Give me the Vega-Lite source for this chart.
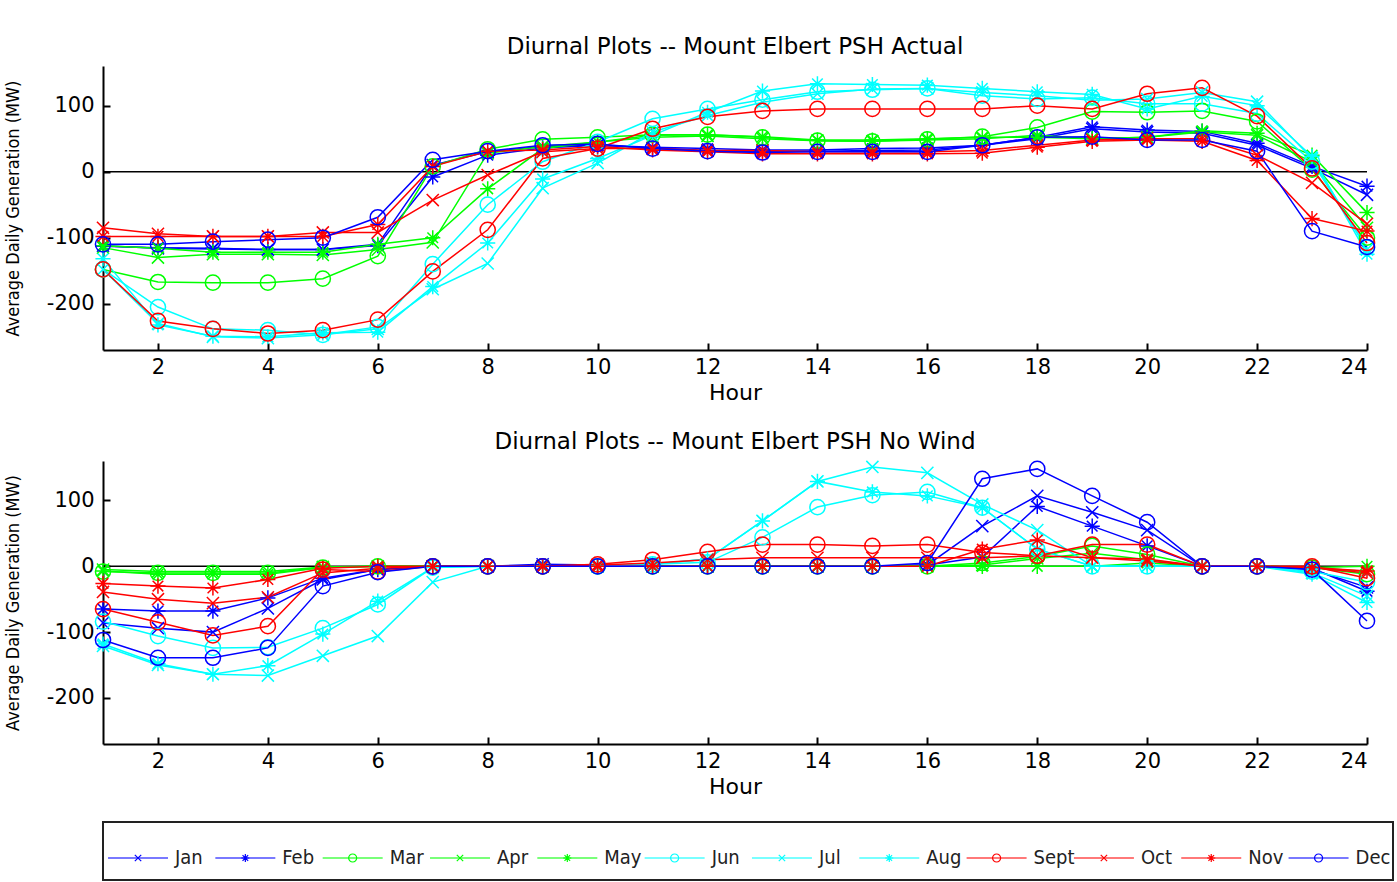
{
 "$schema": "https://vega.github.io/schema/vega-lite/v6.json",
 "padding": {"left": 4, "top": 36, "right": 0, "bottom": 0},
 "background": "white",
 "config": {
  "view": {"stroke": null},
  "font": "DejaVu Sans",
  "axis": {"grid": false, "domainColor": "black", "domainWidth": 2, "tickColor": "black", "tickWidth": 2, "tickSize": -7, "labelColor": "black", "labelFont": "DejaVu Sans", "labelFontSize": 21, "titleColor": "black", "titleFontWeight": "normal", "labelPadding": 16},
  "axisX": {"labelPadding": 13},
  "title": {"font": "DejaVu Sans", "fontSize": 23, "fontWeight": "normal", "color": "black", "offset": 7}
 },
 "datasets": {
  "legend": [{"m":"Jan"},{"m":"Feb"},{"m":"Mar"},{"m":"Apr"},{"m":"May"},{"m":"Jun"},{"m":"Jul"},{"m":"Aug"},{"m":"Sept"},{"m":"Oct"},{"m":"Nov"},{"m":"Dec"}],
  "actual": [
{"m":"Jan","h":1,"v":-112},{"m":"Jan","h":2,"v":-116},{"m":"Jan","h":3,"v":-117},{"m":"Jan","h":4,"v":-118},{"m":"Jan","h":5,"v":-118},{"m":"Jan","h":6,"v":-110},{"m":"Jan","h":7,"v":10},{"m":"Jan","h":8,"v":30},{"m":"Jan","h":9,"v":38},{"m":"Jan","h":10,"v":40},{"m":"Jan","h":11,"v":36},{"m":"Jan","h":12,"v":32},{"m":"Jan","h":13,"v":30},{"m":"Jan","h":14,"v":31},{"m":"Jan","h":15,"v":32},{"m":"Jan","h":16,"v":33},{"m":"Jan","h":17,"v":40},{"m":"Jan","h":18,"v":50},{"m":"Jan","h":19,"v":65},{"m":"Jan","h":20,"v":60},{"m":"Jan","h":21,"v":58},{"m":"Jan","h":22,"v":40},{"m":"Jan","h":23,"v":5},{"m":"Jan","h":24,"v":-35},
{"m":"Feb","h":1,"v":-113},{"m":"Feb","h":2,"v":-115},{"m":"Feb","h":3,"v":-116},{"m":"Feb","h":4,"v":-118},{"m":"Feb","h":5,"v":-118},{"m":"Feb","h":6,"v":-112},{"m":"Feb","h":7,"v":-8},{"m":"Feb","h":8,"v":25},{"m":"Feb","h":9,"v":36},{"m":"Feb","h":10,"v":40},{"m":"Feb","h":11,"v":37},{"m":"Feb","h":12,"v":35},{"m":"Feb","h":13,"v":33},{"m":"Feb","h":14,"v":33},{"m":"Feb","h":15,"v":35},{"m":"Feb","h":16,"v":36},{"m":"Feb","h":17,"v":40},{"m":"Feb","h":18,"v":52},{"m":"Feb","h":19,"v":68},{"m":"Feb","h":20,"v":63},{"m":"Feb","h":21,"v":61},{"m":"Feb","h":22,"v":43},{"m":"Feb","h":23,"v":8},{"m":"Feb","h":24,"v":-22},
{"m":"Mar","h":1,"v":-148},{"m":"Mar","h":2,"v":-167},{"m":"Mar","h":3,"v":-168},{"m":"Mar","h":4,"v":-168},{"m":"Mar","h":5,"v":-162},{"m":"Mar","h":6,"v":-128},{"m":"Mar","h":7,"v":8},{"m":"Mar","h":8,"v":34},{"m":"Mar","h":9,"v":49},{"m":"Mar","h":10,"v":52},{"m":"Mar","h":11,"v":56},{"m":"Mar","h":12,"v":56},{"m":"Mar","h":13,"v":52},{"m":"Mar","h":14,"v":47},{"m":"Mar","h":15,"v":46},{"m":"Mar","h":16,"v":49},{"m":"Mar","h":17,"v":53},{"m":"Mar","h":18,"v":67},{"m":"Mar","h":19,"v":91},{"m":"Mar","h":20,"v":90},{"m":"Mar","h":21,"v":92},{"m":"Mar","h":22,"v":76},{"m":"Mar","h":23,"v":3},{"m":"Mar","h":24,"v":-100},
{"m":"Apr","h":1,"v":-115},{"m":"Apr","h":2,"v":-130},{"m":"Apr","h":3,"v":-125},{"m":"Apr","h":4,"v":-125},{"m":"Apr","h":5,"v":-126},{"m":"Apr","h":6,"v":-118},{"m":"Apr","h":7,"v":-107},{"m":"Apr","h":8,"v":28},{"m":"Apr","h":9,"v":38},{"m":"Apr","h":10,"v":45},{"m":"Apr","h":11,"v":52},{"m":"Apr","h":12,"v":54},{"m":"Apr","h":13,"v":50},{"m":"Apr","h":14,"v":47},{"m":"Apr","h":15,"v":46},{"m":"Apr","h":16,"v":48},{"m":"Apr","h":17,"v":50},{"m":"Apr","h":18,"v":55},{"m":"Apr","h":19,"v":50},{"m":"Apr","h":20,"v":52},{"m":"Apr","h":21,"v":60},{"m":"Apr","h":22,"v":55},{"m":"Apr","h":23,"v":15},{"m":"Apr","h":24,"v":-85},
{"m":"May","h":1,"v":-112},{"m":"May","h":2,"v":-116},{"m":"May","h":3,"v":-122},{"m":"May","h":4,"v":-122},{"m":"May","h":5,"v":-122},{"m":"May","h":6,"v":-110},{"m":"May","h":7,"v":-100},{"m":"May","h":8,"v":-26},{"m":"May","h":9,"v":35},{"m":"May","h":10,"v":45},{"m":"May","h":11,"v":55},{"m":"May","h":12,"v":56},{"m":"May","h":13,"v":53},{"m":"May","h":14,"v":48},{"m":"May","h":15,"v":48},{"m":"May","h":16,"v":50},{"m":"May","h":17,"v":52},{"m":"May","h":18,"v":52},{"m":"May","h":19,"v":50},{"m":"May","h":20,"v":52},{"m":"May","h":21,"v":62},{"m":"May","h":22,"v":58},{"m":"May","h":23,"v":25},{"m":"May","h":24,"v":-62},
{"m":"Jun","h":1,"v":-148},{"m":"Jun","h":2,"v":-205},{"m":"Jun","h":3,"v":-238},{"m":"Jun","h":4,"v":-240},{"m":"Jun","h":5,"v":-247},{"m":"Jun","h":6,"v":-235},{"m":"Jun","h":7,"v":-140},{"m":"Jun","h":8,"v":-50},{"m":"Jun","h":9,"v":15},{"m":"Jun","h":10,"v":45},{"m":"Jun","h":11,"v":80},{"m":"Jun","h":12,"v":95},{"m":"Jun","h":13,"v":109},{"m":"Jun","h":14,"v":121},{"m":"Jun","h":15,"v":124},{"m":"Jun","h":16,"v":126},{"m":"Jun","h":17,"v":115},{"m":"Jun","h":18,"v":110},{"m":"Jun","h":19,"v":112},{"m":"Jun","h":20,"v":103},{"m":"Jun","h":21,"v":103},{"m":"Jun","h":22,"v":88},{"m":"Jun","h":23,"v":15},{"m":"Jun","h":24,"v":-115},
{"m":"Jul","h":1,"v":-148},{"m":"Jul","h":2,"v":-230},{"m":"Jul","h":3,"v":-250},{"m":"Jul","h":4,"v":-252},{"m":"Jul","h":5,"v":-247},{"m":"Jul","h":6,"v":-238},{"m":"Jul","h":7,"v":-178},{"m":"Jul","h":8,"v":-139},{"m":"Jul","h":9,"v":-25},{"m":"Jul","h":10,"v":13},{"m":"Jul","h":11,"v":60},{"m":"Jul","h":12,"v":85},{"m":"Jul","h":13,"v":105},{"m":"Jul","h":14,"v":118},{"m":"Jul","h":15,"v":125},{"m":"Jul","h":16,"v":126},{"m":"Jul","h":17,"v":120},{"m":"Jul","h":18,"v":115},{"m":"Jul","h":19,"v":108},{"m":"Jul","h":20,"v":110},{"m":"Jul","h":21,"v":120},{"m":"Jul","h":22,"v":106},{"m":"Jul","h":23,"v":20},{"m":"Jul","h":24,"v":-118},
{"m":"Aug","h":1,"v":-132},{"m":"Aug","h":2,"v":-232},{"m":"Aug","h":3,"v":-249},{"m":"Aug","h":4,"v":-250},{"m":"Aug","h":5,"v":-244},{"m":"Aug","h":6,"v":-243},{"m":"Aug","h":7,"v":-174},{"m":"Aug","h":8,"v":-108},{"m":"Aug","h":9,"v":-11},{"m":"Aug","h":10,"v":20},{"m":"Aug","h":11,"v":55},{"m":"Aug","h":12,"v":90},{"m":"Aug","h":13,"v":122},{"m":"Aug","h":14,"v":133},{"m":"Aug","h":15,"v":132},{"m":"Aug","h":16,"v":131},{"m":"Aug","h":17,"v":126},{"m":"Aug","h":18,"v":121},{"m":"Aug","h":19,"v":117},{"m":"Aug","h":20,"v":95},{"m":"Aug","h":21,"v":114},{"m":"Aug","h":22,"v":100},{"m":"Aug","h":23,"v":23},{"m":"Aug","h":24,"v":-125},
{"m":"Sept","h":1,"v":-148},{"m":"Sept","h":2,"v":-226},{"m":"Sept","h":3,"v":-238},{"m":"Sept","h":4,"v":-245},{"m":"Sept","h":5,"v":-240},{"m":"Sept","h":6,"v":-224},{"m":"Sept","h":7,"v":-151},{"m":"Sept","h":8,"v":-88},{"m":"Sept","h":9,"v":20},{"m":"Sept","h":10,"v":35},{"m":"Sept","h":11,"v":65},{"m":"Sept","h":12,"v":83},{"m":"Sept","h":13,"v":92},{"m":"Sept","h":14,"v":95},{"m":"Sept","h":15,"v":95},{"m":"Sept","h":16,"v":95},{"m":"Sept","h":17,"v":95},{"m":"Sept","h":18,"v":100},{"m":"Sept","h":19,"v":95},{"m":"Sept","h":20,"v":118},{"m":"Sept","h":21,"v":127},{"m":"Sept","h":22,"v":84},{"m":"Sept","h":23,"v":5},{"m":"Sept","h":24,"v":-108},
{"m":"Oct","h":1,"v":-85},{"m":"Oct","h":2,"v":-94},{"m":"Oct","h":3,"v":-98},{"m":"Oct","h":4,"v":-98},{"m":"Oct","h":5,"v":-92},{"m":"Oct","h":6,"v":-92},{"m":"Oct","h":7,"v":-43},{"m":"Oct","h":8,"v":-5},{"m":"Oct","h":9,"v":30},{"m":"Oct","h":10,"v":35},{"m":"Oct","h":11,"v":35},{"m":"Oct","h":12,"v":32},{"m":"Oct","h":13,"v":32},{"m":"Oct","h":14,"v":30},{"m":"Oct","h":15,"v":30},{"m":"Oct","h":16,"v":30},{"m":"Oct","h":17,"v":32},{"m":"Oct","h":18,"v":40},{"m":"Oct","h":19,"v":48},{"m":"Oct","h":20,"v":50},{"m":"Oct","h":21,"v":50},{"m":"Oct","h":22,"v":25},{"m":"Oct","h":23,"v":-17},{"m":"Oct","h":24,"v":-79},
{"m":"Nov","h":1,"v":-98},{"m":"Nov","h":2,"v":-98},{"m":"Nov","h":3,"v":-98},{"m":"Nov","h":4,"v":-98},{"m":"Nov","h":5,"v":-98},{"m":"Nov","h":6,"v":-80},{"m":"Nov","h":7,"v":8},{"m":"Nov","h":8,"v":31},{"m":"Nov","h":9,"v":33},{"m":"Nov","h":10,"v":38},{"m":"Nov","h":11,"v":33},{"m":"Nov","h":12,"v":30},{"m":"Nov","h":13,"v":27},{"m":"Nov","h":14,"v":27},{"m":"Nov","h":15,"v":27},{"m":"Nov","h":16,"v":27},{"m":"Nov","h":17,"v":28},{"m":"Nov","h":18,"v":37},{"m":"Nov","h":19,"v":46},{"m":"Nov","h":20,"v":48},{"m":"Nov","h":21,"v":46},{"m":"Nov","h":22,"v":17},{"m":"Nov","h":23,"v":-71},{"m":"Nov","h":24,"v":-90},
{"m":"Dec","h":1,"v":-110},{"m":"Dec","h":2,"v":-110},{"m":"Dec","h":3,"v":-106},{"m":"Dec","h":4,"v":-103},{"m":"Dec","h":5,"v":-100},{"m":"Dec","h":6,"v":-69},{"m":"Dec","h":7,"v":18},{"m":"Dec","h":8,"v":31},{"m":"Dec","h":9,"v":40},{"m":"Dec","h":10,"v":42},{"m":"Dec","h":11,"v":35},{"m":"Dec","h":12,"v":31},{"m":"Dec","h":13,"v":29},{"m":"Dec","h":14,"v":30},{"m":"Dec","h":15,"v":30},{"m":"Dec","h":16,"v":30},{"m":"Dec","h":17,"v":40},{"m":"Dec","h":18,"v":52},{"m":"Dec","h":19,"v":53},{"m":"Dec","h":20,"v":48},{"m":"Dec","h":21,"v":48},{"m":"Dec","h":22,"v":31},{"m":"Dec","h":23,"v":-90},{"m":"Dec","h":24,"v":-114}
  ],
  "nowind": [
{"m":"Jan","h":1,"v":-86},{"m":"Jan","h":2,"v":-94},{"m":"Jan","h":3,"v":-100},{"m":"Jan","h":4,"v":-64},{"m":"Jan","h":5,"v":-20},{"m":"Jan","h":6,"v":-5},{"m":"Jan","h":7,"v":0},{"m":"Jan","h":8,"v":0},{"m":"Jan","h":9,"v":3},{"m":"Jan","h":10,"v":2},{"m":"Jan","h":11,"v":0},{"m":"Jan","h":12,"v":0},{"m":"Jan","h":13,"v":0},{"m":"Jan","h":14,"v":0},{"m":"Jan","h":15,"v":0},{"m":"Jan","h":16,"v":2},{"m":"Jan","h":17,"v":61},{"m":"Jan","h":18,"v":107},{"m":"Jan","h":19,"v":82},{"m":"Jan","h":20,"v":55},{"m":"Jan","h":21,"v":0},{"m":"Jan","h":22,"v":0},{"m":"Jan","h":23,"v":-5},{"m":"Jan","h":24,"v":-32},
{"m":"Feb","h":1,"v":-65},{"m":"Feb","h":2,"v":-68},{"m":"Feb","h":3,"v":-68},{"m":"Feb","h":4,"v":-48},{"m":"Feb","h":5,"v":-18},{"m":"Feb","h":6,"v":-5},{"m":"Feb","h":7,"v":0},{"m":"Feb","h":8,"v":0},{"m":"Feb","h":9,"v":0},{"m":"Feb","h":10,"v":0},{"m":"Feb","h":11,"v":0},{"m":"Feb","h":12,"v":0},{"m":"Feb","h":13,"v":0},{"m":"Feb","h":14,"v":0},{"m":"Feb","h":15,"v":0},{"m":"Feb","h":16,"v":2},{"m":"Feb","h":17,"v":14},{"m":"Feb","h":18,"v":91},{"m":"Feb","h":19,"v":61},{"m":"Feb","h":20,"v":31},{"m":"Feb","h":21,"v":0},{"m":"Feb","h":22,"v":0},{"m":"Feb","h":23,"v":-3},{"m":"Feb","h":24,"v":-38},
{"m":"Mar","h":1,"v":-8},{"m":"Mar","h":2,"v":-10},{"m":"Mar","h":3,"v":-10},{"m":"Mar","h":4,"v":-10},{"m":"Mar","h":5,"v":-2},{"m":"Mar","h":6,"v":0},{"m":"Mar","h":7,"v":0},{"m":"Mar","h":8,"v":0},{"m":"Mar","h":9,"v":0},{"m":"Mar","h":10,"v":0},{"m":"Mar","h":11,"v":0},{"m":"Mar","h":12,"v":0},{"m":"Mar","h":13,"v":0},{"m":"Mar","h":14,"v":0},{"m":"Mar","h":15,"v":0},{"m":"Mar","h":16,"v":0},{"m":"Mar","h":17,"v":5},{"m":"Mar","h":18,"v":15},{"m":"Mar","h":19,"v":31},{"m":"Mar","h":20,"v":18},{"m":"Mar","h":21,"v":0},{"m":"Mar","h":22,"v":0},{"m":"Mar","h":23,"v":-2},{"m":"Mar","h":24,"v":-12},
{"m":"Apr","h":1,"v":-5},{"m":"Apr","h":2,"v":-8},{"m":"Apr","h":3,"v":-8},{"m":"Apr","h":4,"v":-8},{"m":"Apr","h":5,"v":-1},{"m":"Apr","h":6,"v":0},{"m":"Apr","h":7,"v":0},{"m":"Apr","h":8,"v":0},{"m":"Apr","h":9,"v":0},{"m":"Apr","h":10,"v":0},{"m":"Apr","h":11,"v":0},{"m":"Apr","h":12,"v":0},{"m":"Apr","h":13,"v":0},{"m":"Apr","h":14,"v":0},{"m":"Apr","h":15,"v":0},{"m":"Apr","h":16,"v":0},{"m":"Apr","h":17,"v":2},{"m":"Apr","h":18,"v":12},{"m":"Apr","h":19,"v":20},{"m":"Apr","h":20,"v":10},{"m":"Apr","h":21,"v":0},{"m":"Apr","h":22,"v":0},{"m":"Apr","h":23,"v":-2},{"m":"Apr","h":24,"v":-8},
{"m":"May","h":1,"v":-7},{"m":"May","h":2,"v":-12},{"m":"May","h":3,"v":-12},{"m":"May","h":4,"v":-12},{"m":"May","h":5,"v":-2},{"m":"May","h":6,"v":0},{"m":"May","h":7,"v":0},{"m":"May","h":8,"v":0},{"m":"May","h":9,"v":0},{"m":"May","h":10,"v":0},{"m":"May","h":11,"v":0},{"m":"May","h":12,"v":0},{"m":"May","h":13,"v":0},{"m":"May","h":14,"v":0},{"m":"May","h":15,"v":0},{"m":"May","h":16,"v":0},{"m":"May","h":17,"v":0},{"m":"May","h":18,"v":0},{"m":"May","h":19,"v":0},{"m":"May","h":20,"v":5},{"m":"May","h":21,"v":0},{"m":"May","h":22,"v":0},{"m":"May","h":23,"v":-2},{"m":"May","h":24,"v":0},
{"m":"Jun","h":1,"v":-84},{"m":"Jun","h":2,"v":-106},{"m":"Jun","h":3,"v":-124},{"m":"Jun","h":4,"v":-123},{"m":"Jun","h":5,"v":-94},{"m":"Jun","h":6,"v":-58},{"m":"Jun","h":7,"v":-2},{"m":"Jun","h":8,"v":0},{"m":"Jun","h":9,"v":0},{"m":"Jun","h":10,"v":0},{"m":"Jun","h":11,"v":3},{"m":"Jun","h":12,"v":6},{"m":"Jun","h":13,"v":44},{"m":"Jun","h":14,"v":90},{"m":"Jun","h":15,"v":108},{"m":"Jun","h":16,"v":113},{"m":"Jun","h":17,"v":89},{"m":"Jun","h":18,"v":26},{"m":"Jun","h":19,"v":0},{"m":"Jun","h":20,"v":0},{"m":"Jun","h":21,"v":0},{"m":"Jun","h":22,"v":0},{"m":"Jun","h":23,"v":-8},{"m":"Jun","h":24,"v":-24},
{"m":"Jul","h":1,"v":-121},{"m":"Jul","h":2,"v":-150},{"m":"Jul","h":3,"v":-164},{"m":"Jul","h":4,"v":-166},{"m":"Jul","h":5,"v":-136},{"m":"Jul","h":6,"v":-106},{"m":"Jul","h":7,"v":-24},{"m":"Jul","h":8,"v":0},{"m":"Jul","h":9,"v":0},{"m":"Jul","h":10,"v":0},{"m":"Jul","h":11,"v":3},{"m":"Jul","h":12,"v":11},{"m":"Jul","h":13,"v":69},{"m":"Jul","h":14,"v":129},{"m":"Jul","h":15,"v":151},{"m":"Jul","h":16,"v":142},{"m":"Jul","h":17,"v":94},{"m":"Jul","h":18,"v":55},{"m":"Jul","h":19,"v":0},{"m":"Jul","h":20,"v":0},{"m":"Jul","h":21,"v":0},{"m":"Jul","h":22,"v":0},{"m":"Jul","h":23,"v":-10},{"m":"Jul","h":24,"v":-45},
{"m":"Aug","h":1,"v":-118},{"m":"Aug","h":2,"v":-148},{"m":"Aug","h":3,"v":-164},{"m":"Aug","h":4,"v":-151},{"m":"Aug","h":5,"v":-103},{"m":"Aug","h":6,"v":-53},{"m":"Aug","h":7,"v":-2},{"m":"Aug","h":8,"v":0},{"m":"Aug","h":9,"v":0},{"m":"Aug","h":10,"v":0},{"m":"Aug","h":11,"v":3},{"m":"Aug","h":12,"v":11},{"m":"Aug","h":13,"v":69},{"m":"Aug","h":14,"v":129},{"m":"Aug","h":15,"v":113},{"m":"Aug","h":16,"v":107},{"m":"Aug","h":17,"v":89},{"m":"Aug","h":18,"v":26},{"m":"Aug","h":19,"v":0},{"m":"Aug","h":20,"v":0},{"m":"Aug","h":21,"v":0},{"m":"Aug","h":22,"v":0},{"m":"Aug","h":23,"v":-12},{"m":"Aug","h":24,"v":-55},
{"m":"Sept","h":1,"v":-65},{"m":"Sept","h":2,"v":-85},{"m":"Sept","h":3,"v":-105},{"m":"Sept","h":4,"v":-91},{"m":"Sept","h":5,"v":-5},{"m":"Sept","h":6,"v":-8},{"m":"Sept","h":7,"v":0},{"m":"Sept","h":8,"v":0},{"m":"Sept","h":9,"v":0},{"m":"Sept","h":10,"v":3},{"m":"Sept","h":11,"v":10},{"m":"Sept","h":12,"v":22},{"m":"Sept","h":13,"v":33},{"m":"Sept","h":14,"v":33},{"m":"Sept","h":15,"v":31},{"m":"Sept","h":16,"v":33},{"m":"Sept","h":17,"v":21},{"m":"Sept","h":18,"v":16},{"m":"Sept","h":19,"v":33},{"m":"Sept","h":20,"v":33},{"m":"Sept","h":21,"v":0},{"m":"Sept","h":22,"v":0},{"m":"Sept","h":23,"v":0},{"m":"Sept","h":24,"v":-18},
{"m":"Oct","h":1,"v":-39},{"m":"Oct","h":2,"v":-50},{"m":"Oct","h":3,"v":-56},{"m":"Oct","h":4,"v":-47},{"m":"Oct","h":5,"v":-10},{"m":"Oct","h":6,"v":-3},{"m":"Oct","h":7,"v":0},{"m":"Oct","h":8,"v":0},{"m":"Oct","h":9,"v":0},{"m":"Oct","h":10,"v":2},{"m":"Oct","h":11,"v":5},{"m":"Oct","h":12,"v":10},{"m":"Oct","h":13,"v":13},{"m":"Oct","h":14,"v":13},{"m":"Oct","h":15,"v":13},{"m":"Oct","h":16,"v":13},{"m":"Oct","h":17,"v":13},{"m":"Oct","h":18,"v":16},{"m":"Oct","h":19,"v":13},{"m":"Oct","h":20,"v":8},{"m":"Oct","h":21,"v":0},{"m":"Oct","h":22,"v":0},{"m":"Oct","h":23,"v":-2},{"m":"Oct","h":24,"v":-10},
{"m":"Nov","h":1,"v":-26},{"m":"Nov","h":2,"v":-30},{"m":"Nov","h":3,"v":-33},{"m":"Nov","h":4,"v":-20},{"m":"Nov","h":5,"v":-3},{"m":"Nov","h":6,"v":0},{"m":"Nov","h":7,"v":0},{"m":"Nov","h":8,"v":0},{"m":"Nov","h":9,"v":0},{"m":"Nov","h":10,"v":0},{"m":"Nov","h":11,"v":0},{"m":"Nov","h":12,"v":0},{"m":"Nov","h":13,"v":0},{"m":"Nov","h":14,"v":0},{"m":"Nov","h":15,"v":0},{"m":"Nov","h":16,"v":0},{"m":"Nov","h":17,"v":26},{"m":"Nov","h":18,"v":40},{"m":"Nov","h":19,"v":13},{"m":"Nov","h":20,"v":11},{"m":"Nov","h":21,"v":0},{"m":"Nov","h":22,"v":0},{"m":"Nov","h":23,"v":-2},{"m":"Nov","h":24,"v":-7},
{"m":"Dec","h":1,"v":-112},{"m":"Dec","h":2,"v":-139},{"m":"Dec","h":3,"v":-139},{"m":"Dec","h":4,"v":-124},{"m":"Dec","h":5,"v":-30},{"m":"Dec","h":6,"v":-9},{"m":"Dec","h":7,"v":0},{"m":"Dec","h":8,"v":0},{"m":"Dec","h":9,"v":0},{"m":"Dec","h":10,"v":0},{"m":"Dec","h":11,"v":0},{"m":"Dec","h":12,"v":0},{"m":"Dec","h":13,"v":0},{"m":"Dec","h":14,"v":0},{"m":"Dec","h":15,"v":0},{"m":"Dec","h":16,"v":5},{"m":"Dec","h":17,"v":133},{"m":"Dec","h":18,"v":148},{"m":"Dec","h":19,"v":107},{"m":"Dec","h":20,"v":67},{"m":"Dec","h":21,"v":0},{"m":"Dec","h":22,"v":0},{"m":"Dec","h":23,"v":-5},{"m":"Dec","h":24,"v":-83}
  ]
 },
 "spacing": 24,
 "vconcat": [
  {
   "spacing": 27,
   "vconcat": [
    {
     "title": {"text": "Diurnal Plots -- Mount Elbert PSH Actual"},
     "width": 1264, "height": 284,
     "layer": [
      {"data": {"values": [{}]}, "mark": {"type": "rule", "color": "black", "strokeWidth": 1.5}, "encoding": {"y": {"datum": 0, "type": "quantitative"}}},
      {"data": {"name": "actual"}, "mark": {"type": "line", "strokeWidth": 1.5},
       "encoding": {
        "x": {"field": "h", "type": "quantitative", "scale": {"domain": [1, 24], "nice": false}, "axis": {"values": [2,4,6,8,10,12,14,16,18,20,22,24], "title": "Hour", "titleFont": "DejaVu Sans", "titleFontSize": 22, "titlePadding": 5}},
        "y": {"field": "v", "type": "quantitative", "scale": {"domain": [-270, 160], "nice": false}, "axis": {"values": [-200,-100,0,100], "labelExpr": "'' + datum.value", "title": "Average Daily Generation (MW)", "titleFont": "DejaVu Sans Condensed, DejaVu Sans", "titleFontSize": 18, "titlePadding": 24}},
        "color": {"field": "m", "type": "nominal", "legend": null, "scale": {"domain": ["Jan","Feb","Mar","Apr","May","Jun","Jul","Aug","Sept","Oct","Nov","Dec"], "range": ["#0000ff","#0000ff","#00ff00","#00ff00","#00ff00","#00ffff","#00ffff","#00ffff","#ff0000","#ff0000","#ff0000","#0000ff"]}},
        "detail": {"field": "m"}
       }},
      {"data": {"name": "actual"}, "mark": {"type": "point", "filled": false, "size": 230, "strokeWidth": 1.5, "opacity": 1},
       "encoding": {
        "x": {"field": "h", "type": "quantitative"},
        "y": {"field": "v", "type": "quantitative"},
        "color": {"field": "m", "type": "nominal", "legend": null},
        "shape": {"field": "m", "type": "nominal", "legend": null, "scale": {"domain": ["Jan","Feb","Mar","Apr","May","Jun","Jul","Aug","Sept","Oct","Nov","Dec"], "range": ["M-0.8,-0.8L0.8,0.8M-0.8,0.8L0.8,-0.8","M-1,0L1,0M0,-1L0,1M-0.7,-0.7L0.7,0.7M-0.7,0.7L0.7,-0.7","circle","M-0.8,-0.8L0.8,0.8M-0.8,0.8L0.8,-0.8","M-1,0L1,0M0,-1L0,1M-0.7,-0.7L0.7,0.7M-0.7,0.7L0.7,-0.7","circle","M-0.8,-0.8L0.8,0.8M-0.8,0.8L0.8,-0.8","M-1,0L1,0M0,-1L0,1M-0.7,-0.7L0.7,0.7M-0.7,0.7L0.7,-0.7","circle","M-0.8,-0.8L0.8,0.8M-0.8,0.8L0.8,-0.8","M-1,0L1,0M0,-1L0,1M-0.7,-0.7L0.7,0.7M-0.7,0.7L0.7,-0.7","circle"]}}
       }}
     ]
    },
    {
     "title": {"text": "Diurnal Plots -- Mount Elbert PSH No Wind", "offset": 4},
     "width": 1264, "height": 283,
     "layer": [
      {"data": {"values": [{}]}, "mark": {"type": "rule", "color": "black", "strokeWidth": 1.5}, "encoding": {"y": {"datum": 0, "type": "quantitative"}}},
      {"data": {"name": "nowind"}, "mark": {"type": "line", "strokeWidth": 1.5},
       "encoding": {
        "x": {"field": "h", "type": "quantitative", "scale": {"domain": [1, 24], "nice": false}, "axis": {"values": [2,4,6,8,10,12,14,16,18,20,22,24], "title": "Hour", "titleFont": "DejaVu Sans", "titleFontSize": 22, "titlePadding": 5}},
        "y": {"field": "v", "type": "quantitative", "scale": {"domain": [-270, 160], "nice": false}, "axis": {"values": [-200,-100,0,100], "labelExpr": "'' + datum.value", "title": "Average Daily Generation (MW)", "titleFont": "DejaVu Sans Condensed, DejaVu Sans", "titleFontSize": 18, "titlePadding": 24}},
        "color": {"field": "m", "type": "nominal", "legend": null, "scale": {"domain": ["Jan","Feb","Mar","Apr","May","Jun","Jul","Aug","Sept","Oct","Nov","Dec"], "range": ["#0000ff","#0000ff","#00ff00","#00ff00","#00ff00","#00ffff","#00ffff","#00ffff","#ff0000","#ff0000","#ff0000","#0000ff"]}},
        "detail": {"field": "m"}
       }},
      {"data": {"name": "nowind"}, "mark": {"type": "point", "filled": false, "size": 230, "strokeWidth": 1.5, "opacity": 1},
       "encoding": {
        "x": {"field": "h", "type": "quantitative"},
        "y": {"field": "v", "type": "quantitative"},
        "color": {"field": "m", "type": "nominal", "legend": null},
        "shape": {"field": "m", "type": "nominal", "legend": null, "scale": {"domain": ["Jan","Feb","Mar","Apr","May","Jun","Jul","Aug","Sept","Oct","Nov","Dec"], "range": ["M-0.8,-0.8L0.8,0.8M-0.8,0.8L0.8,-0.8","M-1,0L1,0M0,-1L0,1M-0.7,-0.7L0.7,0.7M-0.7,0.7L0.7,-0.7","circle","M-0.8,-0.8L0.8,0.8M-0.8,0.8L0.8,-0.8","M-1,0L1,0M0,-1L0,1M-0.7,-0.7L0.7,0.7M-0.7,0.7L0.7,-0.7","circle","M-0.8,-0.8L0.8,0.8M-0.8,0.8L0.8,-0.8","M-1,0L1,0M0,-1L0,1M-0.7,-0.7L0.7,0.7M-0.7,0.7L0.7,-0.7","circle","M-0.8,-0.8L0.8,0.8M-0.8,0.8L0.8,-0.8","M-1,0L1,0M0,-1L0,1M-0.7,-0.7L0.7,0.7M-0.7,0.7L0.7,-0.7","circle"]}}
       }}
     ]
    }
   ]
  },
  {
   "width": 1290, "height": 58,
   "view": {"stroke": "#222222", "strokeWidth": 2},
   "data": {"name": "legend"},
   "encoding": {
    "x": {"field": "m", "type": "ordinal", "sort": ["Jan","Feb","Mar","Apr","May","Jun","Jul","Aug","Sept","Oct","Nov","Dec"], "scale": {"type": "point", "padding": 0.51, "align": 0.32}, "axis": null}
   },
   "layer": [
    {"mark": {"type": "tick", "orient": "horizontal", "size": 60, "thickness": 1.5, "yOffset": 7},
     "encoding": {"color": {"field": "m", "type": "nominal", "legend": null}}},
    {"mark": {"type": "point", "filled": false, "size": 64, "strokeWidth": 1.2, "opacity": 1, "yOffset": 7},
     "encoding": {"color": {"field": "m", "type": "nominal", "legend": null}, "shape": {"field": "m", "type": "nominal", "legend": null}}},
    {"mark": {"type": "text", "align": "left", "baseline": "middle", "dx": 37, "dy": 7, "font": "DejaVu Sans Condensed, DejaVu Sans", "fontSize": 20, "color": "#222222"},
     "encoding": {"text": {"field": "m"}}}
   ]
  }
 ]
}
